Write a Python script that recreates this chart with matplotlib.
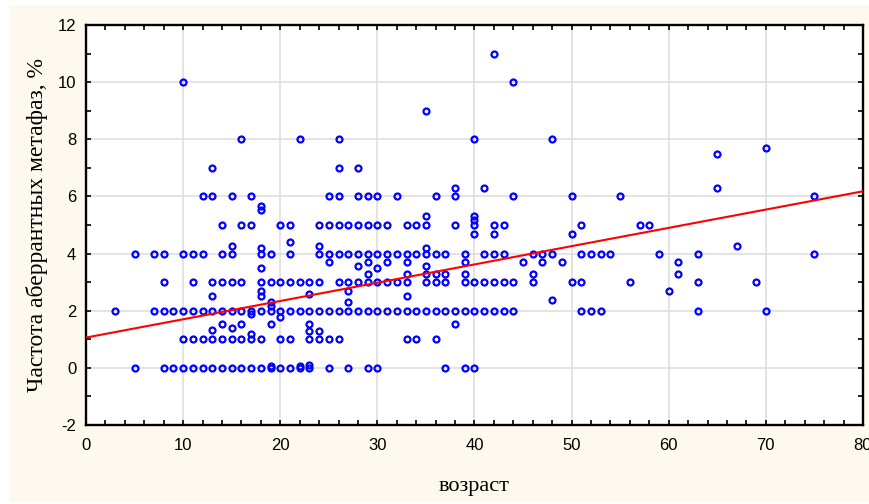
import matplotlib
matplotlib.use('Agg')
import matplotlib.pyplot as plt
import numpy as np
from matplotlib.patches import Rectangle
from matplotlib.ticker import MultipleLocator

plt.rcParams['axes.unicode_minus'] = False

# age (years) and frequency of aberrant metaphases (%)
age = [
    # ~0 %
    5, 8, 9, 10, 11, 12, 13, 14, 15, 16, 17, 18, 19, 20, 21, 22, 23, 25, 27, 29, 30, 37, 39, 40,
    19, 22, 23,
    # ~1 %
    10, 11, 12, 13, 14, 15, 16, 17, 18, 20, 21, 23, 24, 25, 26, 33, 34, 36,
    13, 14, 15, 16, 17, 17, 19, 20, 23, 23, 24, 38,
    # ~2 %
    3, 7, 8, 9, 10, 11, 12, 13, 14, 15, 16, 17, 18, 19, 20, 21, 22, 23, 24, 25, 26, 27, 28,
    29, 30, 31, 32, 33, 34, 35, 36, 37, 38, 39, 40, 41, 42, 43, 44, 51, 52, 53, 63, 70,
    13, 18, 18, 19, 19, 23, 27, 27, 33, 48, 60,
    # ~3 %
    8, 11, 13, 14, 15, 16, 18, 19, 20, 21, 22, 23, 24, 26, 27, 28, 29, 30, 31, 32, 33, 35,
    36, 37, 39, 40, 41, 42, 43, 44, 46, 50, 51, 56, 63, 69,
    18, 25, 28, 29, 29, 30, 31, 33, 33, 35, 35, 36, 37, 39, 39, 45, 46, 47, 49, 61, 61,
    # ~4 %
    5, 7, 8, 10, 11, 12, 14, 15, 18, 19, 21, 24, 25, 26, 27, 28, 29, 30, 31, 32, 33, 34, 35,
    36, 37, 39, 41, 42, 43, 46, 47, 48, 51, 52, 53, 54, 59, 63, 75,
    15, 18, 21, 24, 35, 42, 40, 50, 67,
    # ~5 %
    14, 16, 17, 20, 21, 24, 25, 26, 27, 28, 29, 30, 31, 33, 34, 35, 38, 40, 42, 43, 51, 57, 58,
    18, 18, 35, 40, 40,
    # ~6 %
    12, 13, 15, 17, 25, 26, 28, 29, 30, 32, 36, 38, 44, 50, 55, 75,
    38, 41, 65,
    # 7 % and above
    13, 26, 28, 65, 70,
    16, 22, 26, 40, 48,
    35, 10, 44, 42,
]
aberr = [
    0, 0, 0, 0, 0, 0, 0, 0, 0, 0, 0, 0, 0, 0, 0, 0, 0, 0, 0, 0, 0, 0, 0, 0,
    0.08, 0.08, 0.1,
    1, 1, 1, 1, 1, 1, 1, 1, 1, 1, 1, 1, 1, 1, 1, 1, 1, 1,
    1.31, 1.52, 1.4, 1.52, 1.2, 1.9, 1.52, 1.77, 1.52, 1.3, 1.3, 1.52,
    2, 2, 2, 2, 2, 2, 2, 2, 2, 2, 2, 2, 2, 2, 2, 2, 2, 2, 2, 2, 2, 2, 2,
    2, 2, 2, 2, 2, 2, 2, 2, 2, 2, 2, 2, 2, 2, 2, 2, 2, 2, 2, 2, 2,
    2.5, 2.5, 2.7, 2.15, 2.3, 2.6, 2.3, 2.7, 2.5, 2.36, 2.7,
    3, 3, 3, 3, 3, 3, 3, 3, 3, 3, 3, 3, 3, 3, 3, 3, 3, 3, 3, 3, 3, 3,
    3, 3, 3, 3, 3, 3, 3, 3, 3, 3, 3, 3, 3, 3,
    3.5, 3.7, 3.55, 3.7, 3.3, 3.5, 3.7, 3.7, 3.3, 3.55, 3.3, 3.3, 3.3, 3.7, 3.3, 3.7, 3.3,
    3.7, 3.7, 3.7, 3.3,
    4, 4, 4, 4, 4, 4, 4, 4, 4, 4, 4, 4, 4, 4, 4, 4, 4, 4, 4, 4, 4, 4, 4,
    4, 4, 4, 4, 4, 4, 4, 4, 4, 4, 4, 4, 4, 4, 4, 4,
    4.25, 4.2, 4.4, 4.26, 4.2, 4.68, 4.7, 4.68, 4.26,
    5, 5, 5, 5, 5, 5, 5, 5, 5, 5, 5, 5, 5, 5, 5, 5, 5, 5, 5, 5, 5, 5, 5,
    5.67, 5.53, 5.32, 5.32, 5.18,
    6, 6, 6, 6, 6, 6, 6, 6, 6, 6, 6, 6, 6, 6, 6, 6,
    6.3, 6.3, 6.3,
    7, 7, 7, 7.5, 7.7,
    8, 8, 8, 8, 8,
    9, 10, 10, 11,
]

# regression line: y = b0 + b1 * x
b0 = 1.06
b1 = 0.064
x_fit = [0, 80]

fig = plt.figure(figsize=(8.7, 5.04), dpi=100, facecolor='white')
fig.patches.append(Rectangle((9 / 870, 2 / 504), 1, 497 / 504, transform=fig.transFigure,
                             facecolor='#fdf9ee', edgecolor='none', zorder=-10))
ax = fig.add_axes([86 / 870, 79 / 504, 777 / 870, 400 / 504])
ax.set_facecolor('white')

ax.plot(age, aberr, 'o', ms=4.3, mfc='none', mec='#0000ff', mew=1.6, zorder=3)
ax.plot(x_fit, [b0 + b1 * v for v in x_fit], color='#ff0000', lw=1.5, zorder=4)

ax.set_xlim(0, 80)
ax.set_ylim(-2, 12)
ax.xaxis.set_major_locator(MultipleLocator(10))
ax.xaxis.set_minor_locator(MultipleLocator(2))
ax.yaxis.set_major_locator(MultipleLocator(2))
ax.yaxis.set_minor_locator(MultipleLocator(1))
ax.tick_params(which='both', direction='in', top=True, right=True, length=3.5, width=1.2)
ax.tick_params(axis='x', labelsize=12, pad=9)
ax.tick_params(axis='y', labelsize=12, pad=7)
for lab in ax.get_xticklabels() + ax.get_yticklabels():
    lab.set_fontfamily('Liberation Sans')
ax.grid(True, which='major', color='#dcdcdc', lw=1.1)
ax.set_axisbelow(True)
for s in ax.spines.values():
    s.set_linewidth(1.7)

ax.set_xlabel('возраст', fontfamily='Liberation Serif', fontsize=16, labelpad=18)
ax.set_ylabel('Частота аберрантных метафаз, %', fontfamily='Liberation Serif', fontsize=17)
ax.yaxis.set_label_coords(-0.049, 0.5)

fig.savefig('out.png', dpi=100, facecolor=fig.get_facecolor())
